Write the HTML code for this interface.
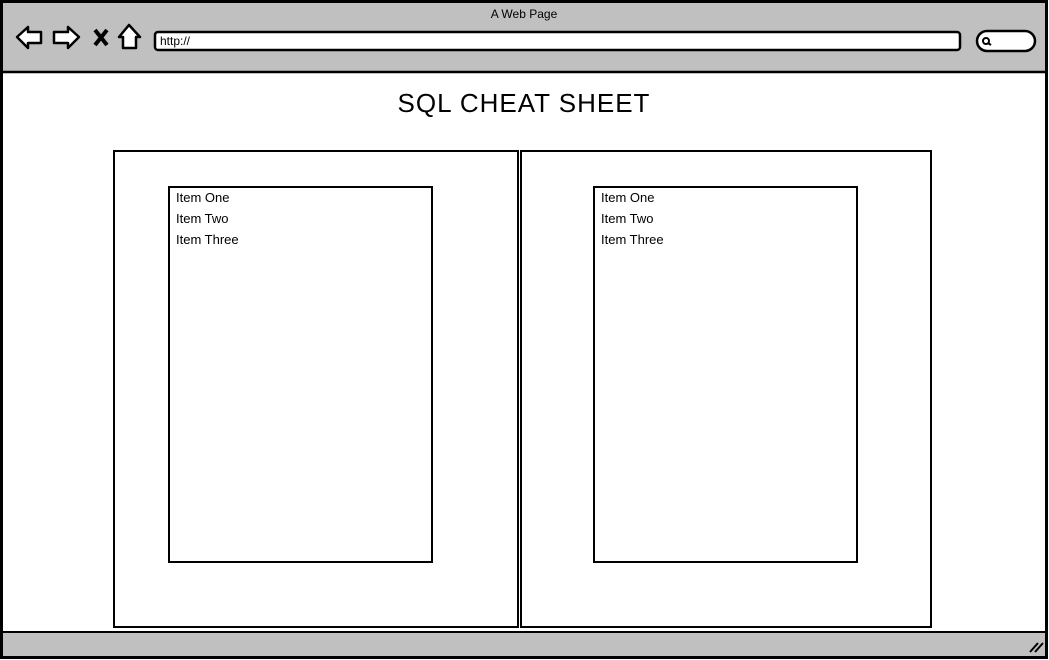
<!DOCTYPE html>
<html><head><style>
body{margin:0;width:1049px;height:660px;overflow:hidden;background:#fff;font-family:"Liberation Sans",sans-serif;}
svg{position:absolute;left:0;top:0}
</style></head><body>
<svg width="1049" height="660" viewBox="0 0 1049 660">
<rect x="1.5" y="1.5" width="1045" height="656" fill="#fff" stroke="#000" stroke-width="3"/>
<rect x="3" y="3" width="1042" height="69" fill="#c0c0c0"/>
<line x1="2" y1="72" x2="1046" y2="72" stroke="#000" stroke-width="2.5"/>
<text x="524" y="18" font-size="12" text-anchor="middle">A Web Page</text>
<path d="M17 37 L28 27 L28 32 L41 32 L41 43 L28 43 L28 48 Z" fill="#fff" stroke="#000" stroke-width="2.5" stroke-linejoin="round"/>
<path d="M79 37 L68 27 L68 32 L54 32 L54 43 L68 43 L68 48 Z" fill="#fff" stroke="#000" stroke-width="2.5" stroke-linejoin="round"/>
<path d="M95 30 L107 45 M107 30 L95 45" stroke="#000" stroke-width="4"/>
<path d="M129 25 L140 37 L136 37 L136 48 L123 48 L123 37 L119 37 Z" fill="#fff" stroke="#000" stroke-width="2.5" stroke-linejoin="round"/>
<rect x="155" y="32" width="805" height="18" rx="3" fill="#fff" stroke="#000" stroke-width="2.5"/>
<text x="160" y="45" font-size="12">http://</text>
<rect x="977" y="31" width="58" height="20" rx="10" fill="#fff" stroke="#000" stroke-width="2.5"/>
<circle cx="986" cy="41" r="3" fill="none" stroke="#000" stroke-width="2"/>
<line x1="988" y1="43" x2="991" y2="45" stroke="#000" stroke-width="2"/>
<rect x="3" y="632" width="1042" height="24" fill="#c0c0c0"/>
<line x1="2" y1="632" x2="1046" y2="632" stroke="#000" stroke-width="2"/>
<path d="M1030 652 L1038 643 M1035 652 L1043 643" stroke="#000" stroke-width="2"/>
<text x="524" y="112" font-size="26" text-anchor="middle" letter-spacing="1">SQL CHEAT SHEET</text>
<rect x="114" y="151" width="404" height="476" fill="#fff" stroke="#000" stroke-width="2"/>
<rect x="521" y="151" width="410" height="476" fill="#fff" stroke="#000" stroke-width="2"/>
<rect x="169" y="187" width="263" height="375" fill="#fff" stroke="#000" stroke-width="2"/>
<rect x="594" y="187" width="263" height="375" fill="#fff" stroke="#000" stroke-width="2"/>
<g font-size="13">
<text x="176" y="202">Item One</text><text x="176" y="223">Item Two</text><text x="176" y="244">Item Three</text>
<text x="601" y="202">Item One</text><text x="601" y="223">Item Two</text><text x="601" y="244">Item Three</text>
</g>
</svg>
</body></html>
